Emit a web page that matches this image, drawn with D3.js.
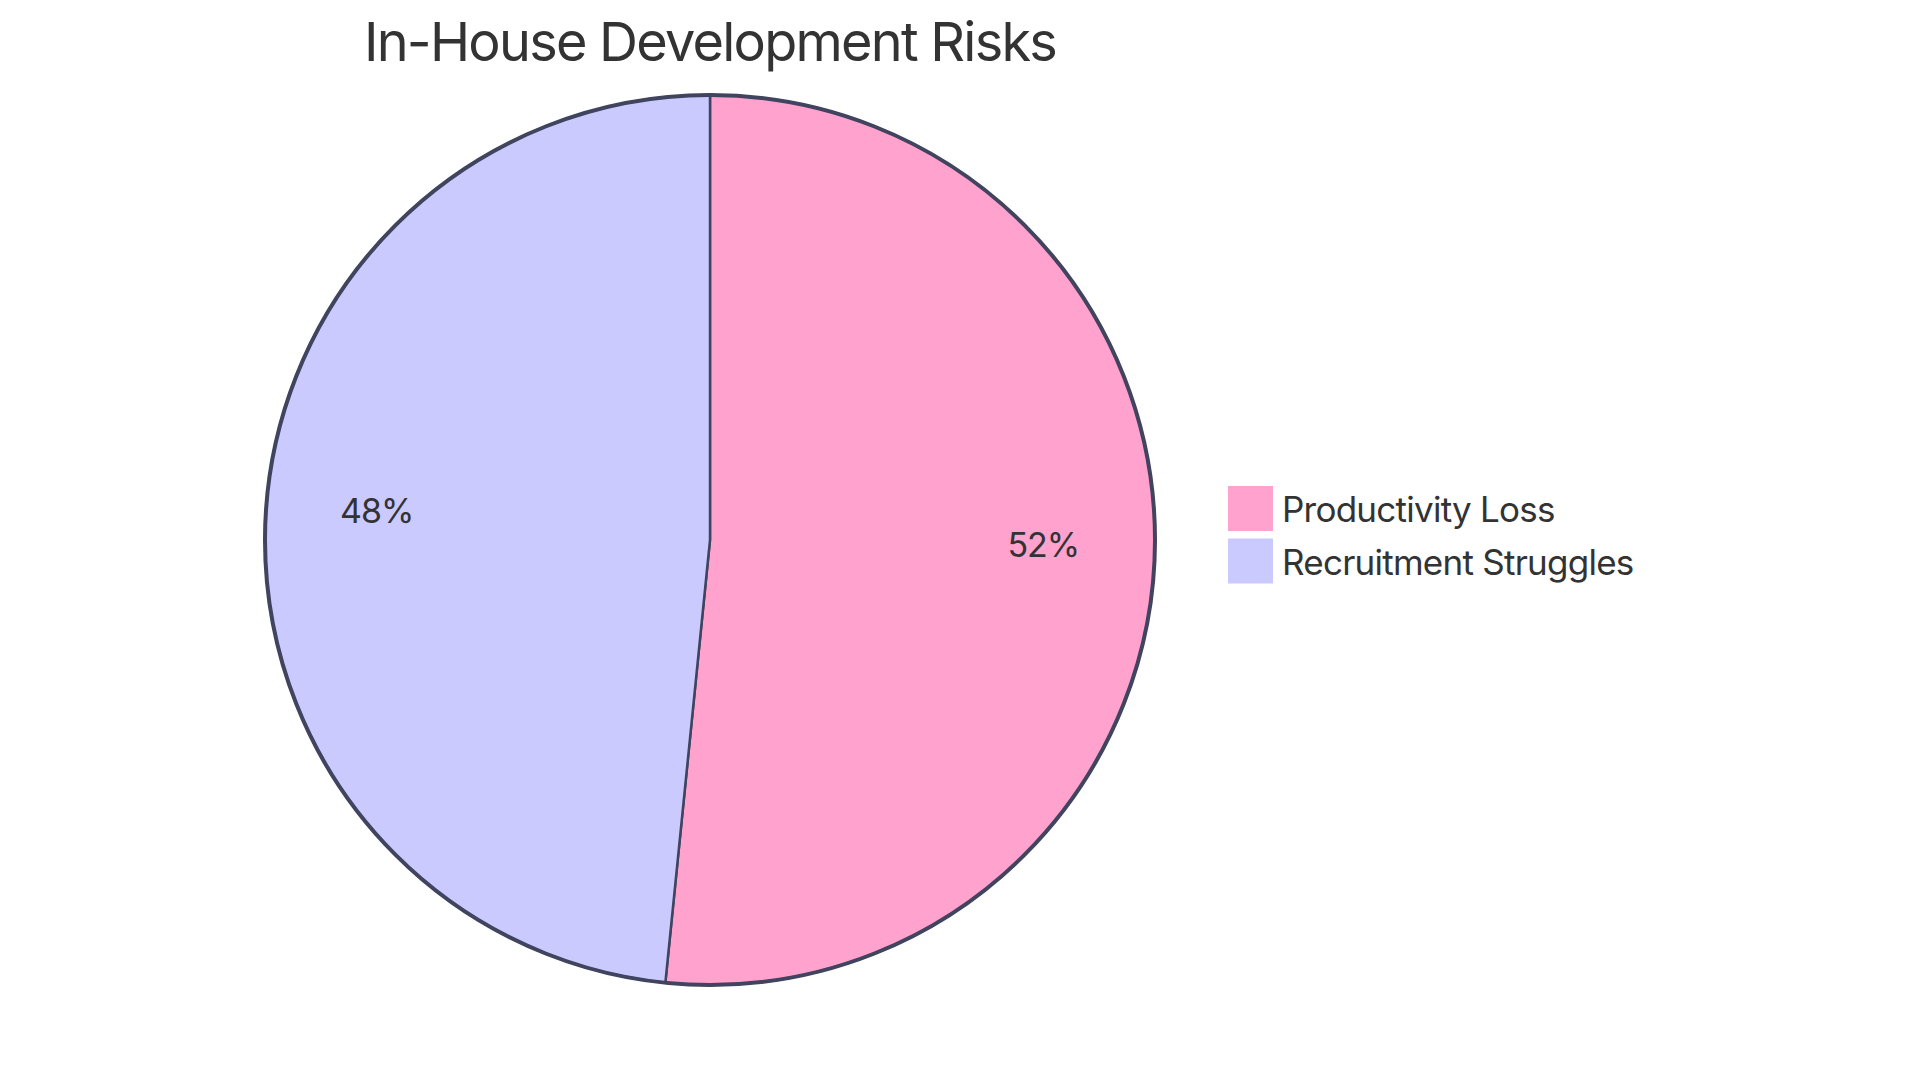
<!DOCTYPE html>
<html>
<head>
<meta charset="utf-8">
<script src="https://cdn.jsdelivr.net/npm/d3@7"></script>
<style>
  html, body { margin: 0; padding: 0; background: #ffffff; }
  svg { display: block; }
  text { font-family: Inter, "Noto Sans", sans-serif; fill: #333333; }
</style>
</head>
<body>
<svg id="chart" width="1920" height="1083"></svg>
<script>
const chartTitle = "In-House Development Risks";
const categories = ["Productivity Loss", "Recruitment Struggles"];
const values = [51.6, 48.4];
const colors = ["#FFA2CD", "#CACAFF"];

const W = 1920, H = 1083;
const cx = 710, cy = 540, radius = 445;
const strokeColor = "#40445F";

const svg = d3.select("#chart");

const data = categories.map((c, i) => ({ label: c, value: values[i] }));
const total = d3.sum(values);

const color = d3.scaleOrdinal().domain(categories).range(colors);

const pie = d3.pie().sort(null).value(d => d.value);
const arcs = pie(data);
const arc = d3.arc().innerRadius(0).outerRadius(radius);
const labelArc = d3.arc().innerRadius(radius * 0.75).outerRadius(radius * 0.75);

const g = svg.append("g").attr("transform", `translate(${cx},${cy})`);

g.selectAll("path.slice")
  .data(arcs)
  .enter().append("path")
  .attr("class", "slice")
  .attr("d", arc)
  .attr("fill", d => color(d.data.label))
  .attr("stroke", strokeColor)
  .attr("stroke-width", 2.5);

g.append("circle")
  .attr("r", radius)
  .attr("fill", "none")
  .attr("stroke", strokeColor)
  .attr("stroke-width", 4);

g.selectAll("text.pct")
  .data(arcs)
  .enter().append("text")
  .attr("class", "pct")
  .attr("transform", d => `translate(${labelArc.centroid(d)})`)
  .attr("text-anchor", "middle")
  .style("font-size", "34px")
  .style("letter-spacing", "-1px")
  .text(d => (d.data.value / total * 100).toFixed(0) + "%");

svg.append("text")
  .attr("x", cx)
  .attr("y", 61)
  .attr("text-anchor", "middle")
  .style("font-size", "54px")
  .style("letter-spacing", "-1.75px")
  .text(chartTitle);

const legend = svg.append("g").attr("transform", "translate(1228,486)");
const item = legend.selectAll("g.item")
  .data(categories)
  .enter().append("g")
  .attr("class", "item")
  .attr("transform", (d, i) => `translate(0,${i * 52.5})`);

item.append("rect")
  .attr("x", 1).attr("y", 1)
  .attr("width", 43).attr("height", 43)
  .attr("fill", d => color(d))
  .attr("stroke", d => color(d))
  .attr("stroke-width", 2);

item.append("text")
  .attr("x", 54)
  .attr("y", 36)
  .style("font-size", "35px")
  .style("letter-spacing", "-0.75px")
  .text(d => d);
</script>
</body>
</html>
